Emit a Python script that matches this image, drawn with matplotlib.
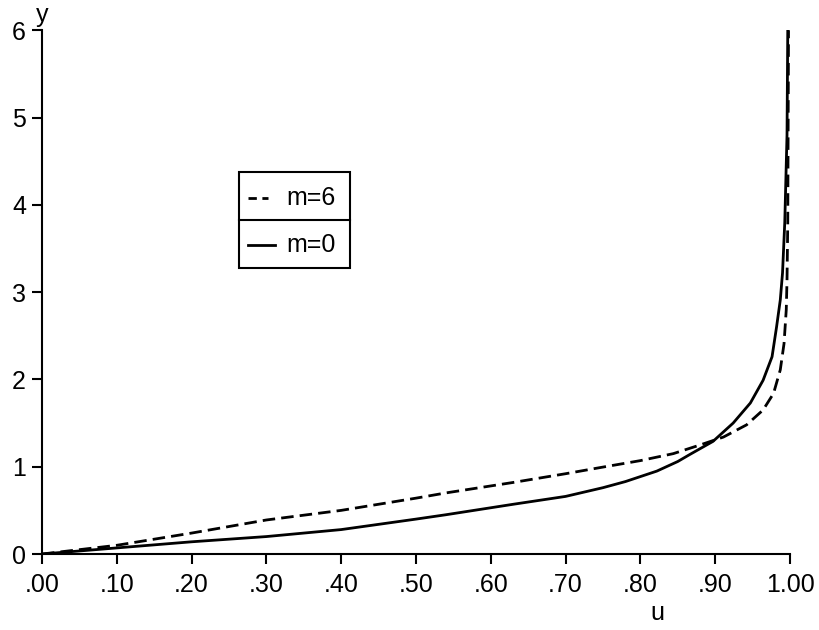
import numpy as np
import matplotlib
matplotlib.use('Agg')
import matplotlib.pyplot as plt
from matplotlib.patches import Rectangle
from matplotlib.lines import Line2D

plt.rcParams['font.family'] = ['Liberation Sans', 'DejaVu Sans']

# m=0 (solid) -- u at each y
u_m0 = [0.00, 0.10, 0.20, 0.30, 0.40, 0.45, 0.50, 0.54, 0.60, 0.63, 0.70, 0.75,
        0.78, 0.822, 0.85, 0.866, 0.897, 0.924, 0.947, 0.964, 0.976, 0.982,
        0.987, 0.990, 0.993, 0.996, 0.997]
y_m0 = [0.00, 0.07, 0.14, 0.20, 0.28, 0.34, 0.40, 0.45, 0.53, 0.57, 0.66, 0.76,
        0.83, 0.95, 1.06, 1.14, 1.29, 1.50, 1.73, 1.99, 2.26, 2.60,
        2.91, 3.22, 3.80, 4.80, 6.00]

# m=6 (dashed)
u_m6 = [0.00, 0.10, 0.20, 0.30, 0.40, 0.45, 0.50, 0.54, 0.60, 0.63, 0.70, 0.746,
        0.80, 0.844, 0.880, 0.911, 0.942, 0.964, 0.978, 0.987, 0.992, 0.995,
        0.996, 0.997, 0.998]
y_m6 = [0.00, 0.10, 0.24, 0.39, 0.50, 0.57, 0.64, 0.70, 0.78, 0.82, 0.92, 0.99,
        1.07, 1.15, 1.25, 1.34, 1.48, 1.65, 1.84, 2.11, 2.41, 2.80,
        3.14, 3.80, 6.00]

xticks = np.arange(0, 1.01, 0.1)
xlabels = ['.00', '.10', '.20', '.30', '.40', '.50', '.60', '.70', '.80', '.90', '1.00']
yticks = [0, 1, 2, 3, 4, 5, 6]

fig = plt.figure(figsize=(8.19, 6.3), dpi=100)
ax = fig.add_axes([0.0513, 0.1206, 0.9133, 0.8314])

ax.plot(u_m0, y_m0, color='black', lw=2, solid_joinstyle='round')
ax.plot(u_m6, y_m6, color='black', lw=2, linestyle=(0, (4.5, 2.2)))

ax.set_xlim(0, 1)
ax.set_ylim(0, 6)
ax.spines['top'].set_visible(False)
ax.spines['right'].set_visible(False)
for s in ['left', 'bottom']:
    ax.spines[s].set_linewidth(1.5)
ax.set_xticks(xticks)
ax.set_xticklabels(xlabels)
ax.set_yticks(yticks)
ax.tick_params(axis='both', direction='out', length=7.5, width=1.5,
               labelsize=18, color='black')
ax.tick_params(axis='x', pad=6)
ax.tick_params(axis='y', pad=4)

ax.annotate('y', xy=(0, 6), xytext=(0, 2), textcoords='offset points',
            ha='center', va='bottom', fontsize=18)
fig.text(657 / 819, 10 / 630, 'u', ha='center', va='baseline', fontsize=18)

# hand-drawn legend box with divider
x0, x1 = 0.263, 0.412
yb, ym, yt = 0.547, 0.638, 0.730
ax.add_patch(Rectangle((x0, yb), x1 - x0, yt - yb, transform=ax.transAxes,
                       fill=False, lw=1.5, ec='black', clip_on=False))
ax.add_line(Line2D([x0, x1], [ym, ym], transform=ax.transAxes, color='black', lw=1.5))
ax.add_line(Line2D([0.275, 0.302], [0.680, 0.680], transform=ax.transAxes,
                   color='black', lw=2, linestyle=(0, (3, 2))))
ax.add_line(Line2D([0.275, 0.311], [0.590, 0.590], transform=ax.transAxes,
                   color='black', lw=2))
ax.text(0.327, 0.680, 'm=6', transform=ax.transAxes, ha='left', va='center', fontsize=18)
ax.text(0.327, 0.590, 'm=0', transform=ax.transAxes, ha='left', va='center', fontsize=18)

fig.savefig('out.png', dpi=100)
